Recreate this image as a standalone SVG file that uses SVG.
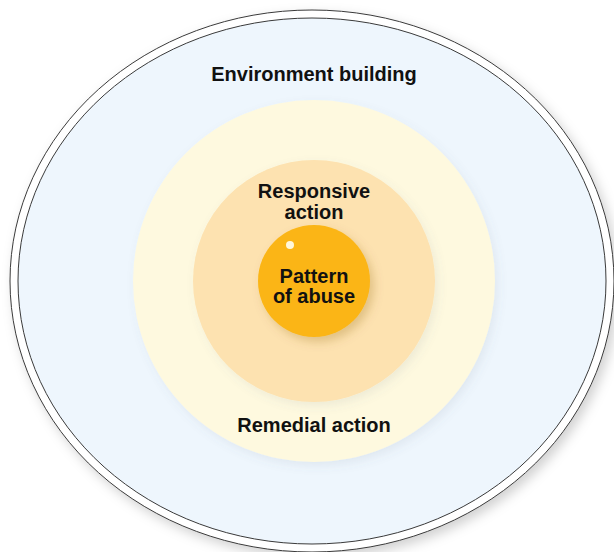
<svg xmlns="http://www.w3.org/2000/svg" width="614" height="552" viewBox="0 0 614 552">
  <defs>
    <filter id="shOuter" x="-10%" y="-10%" width="125%" height="125%">
      <feDropShadow dx="4" dy="5" stdDeviation="6" flood-color="#000" flood-opacity="0.18"/>
    </filter>
    <filter id="shSoft" x="-10%" y="-10%" width="125%" height="125%">
      <feDropShadow dx="3" dy="4" stdDeviation="5" flood-color="#5a6a80" flood-opacity="0.10"/>
    </filter>
    <filter id="shCore" x="-20%" y="-20%" width="150%" height="150%">
      <feDropShadow dx="4" dy="5" stdDeviation="5" flood-color="#8a5a00" flood-opacity="0.25"/>
    </filter>
  </defs>
  <style>
    .lbl { font-family: "Liberation Sans", Arial, sans-serif; font-weight: bold; font-size: 20px; fill: #111; text-anchor: middle; }
    .ring { stroke: #3a3a3a; stroke-width: 1; }
  </style>
  <rect width="614" height="552" fill="#ffffff"/>
  <g id="environment-building">
    <ellipse class="ring" cx="312" cy="281" rx="302" ry="271" fill="#ffffff" filter="url(#shOuter)"/>
    <ellipse class="ring" cx="312" cy="281" rx="294" ry="263" fill="#EEF6FD"/>
    <text class="lbl" x="314" y="81">Environment building</text>
  </g>
  <g id="remedial-action">
    <circle cx="314" cy="281" r="181" fill="#FEF9DF" filter="url(#shSoft)"/>
    <text class="lbl" x="314" y="432">Remedial action</text>
  </g>
  <g id="responsive-action">
    <circle cx="314" cy="281" r="121" fill="#FDE2B0" filter="url(#shSoft)"/>
    <text class="lbl" x="314" y="198" font-size="19">Responsive</text>
    <text class="lbl" x="314" y="219" font-size="19">action</text>
  </g>
  <g id="pattern-of-abuse">
    <circle cx="314" cy="281" r="56" fill="#FBB515" filter="url(#shCore)"/>
    <circle cx="290" cy="245" r="4" fill="#FFF7DC"/>
    <text class="lbl" x="314" y="283">Pattern</text>
    <text class="lbl" x="314" y="303">of abuse</text>
  </g>
  <g id="connectors"></g>
</svg>
